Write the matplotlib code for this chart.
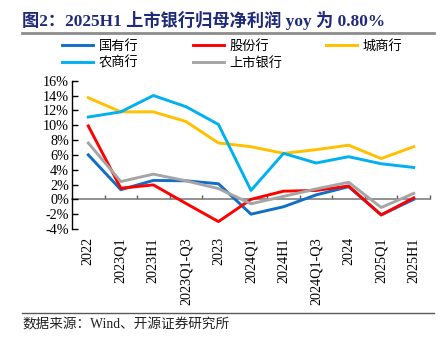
import matplotlib
matplotlib.use("Agg")
import matplotlib.pyplot as plt
from matplotlib.lines import Line2D

plt.rcParams["font.family"] = ["Liberation Serif", "Noto Sans CJK SC"]

periods = ["2022", "2023Q1", "2023H1", "2023Q1-Q3", "2023", "2024Q1",
           "2024H1", "2024Q1-Q3", "2024", "2025Q1", "2025H1"]
state_owned = [6.0, 1.3, 2.55, 2.5, 2.1, -2.0, -1.0, 0.6, 1.7, -2.1, 0.0]
joint_stock = [9.9, 1.5, 1.95, -0.55, -3.0, 0.0, 1.1, 1.2, 1.8, -2.1, 0.2]
city_banks  = [13.7, 11.8, 11.8, 10.5, 7.6, 7.1, 6.2, 6.7, 7.3, 5.5, 7.1]
rural_banks = [11.1, 11.8, 14.0, 12.5, 10.1, 1.2, 6.2, 4.9, 5.75, 4.8, 4.3]
listed_all  = [7.6, 2.4, 3.4, 2.5, 1.45, -0.6, 0.4, 1.4, 2.3, -1.1, 0.8]
yticks = list(range(-4, 17, 2))

series = [
    ("国有行", state_owned, "#0F6FC6"),
    ("股份行", joint_stock, "#FF0000"),
    ("城商行", city_banks, "#FFC000"),
    ("农商行", rural_banks, "#00B0F0"),
    ("上市银行", listed_all, "#A5A5A5"),
]

fig = plt.figure(figsize=(4.46, 3.47), dpi=100)
ax = fig.add_axes([72 / 446, 1 - 229 / 347, 358 / 446, 148.3 / 347])

x = list(range(len(periods)))
handles = {}
for name, vals, col in series:
    (ln,) = ax.plot(x, vals, color=col, lw=2.1, label=name)
    handles[name] = ln

ax.set_xlim(-0.5, len(periods) - 0.5)
ax.set_ylim(-4, 16)
ax.set_yticks(yticks)
ax.set_yticklabels([f"{v}%" for v in yticks], fontsize=10.2)
ax.tick_params(axis="y", direction="in", length=4, width=1, pad=2)
ax.set_xticks(x)
ax.set_xticklabels(periods, rotation=90, fontsize=10.2)
ax.tick_params(axis="x", length=0, pad=6)
for s in ["top", "right", "bottom"]:
    ax.spines[s].set_visible(False)
ax.spines["left"].set_linewidth(1)

# zero line with ticks at category boundaries
zero_axis = ax.secondary_xaxis(4 / 20)
zero_axis.set_xticks([i + 0.5 for i in x])
zero_axis.set_xticklabels([])
zero_axis.tick_params(direction="in", length=3, width=1, color="#595959")
zero_axis.spines["bottom"].set_color("#7F7F7F")
zero_axis.spines["bottom"].set_linewidth(1.2)

# legend: three columns placed like the reference
legend_cols = [(["国有行", "农商行"], 55), (["股份行", "上市银行"], 186), (["城商行"], 319)]
for names, x0 in legend_cols:
    leg = fig.legend([handles[n] for n in names], names, ncol=1, frameon=False,
                     loc="upper left", bbox_to_anchor=(x0 / 446, 1 - 33 / 347),
                     borderpad=0, handlelength=2.4, handletextpad=0.4,
                     labelspacing=0.3,
                     prop={"family": ["Noto Sans CJK SC"], "size": 9.5})

fig.text(22 / 446, 1 - 20 / 347, "图2：2025H1 上市银行归母净利润 yoy 为 0.80%",
         fontsize=12.4, fontweight="bold", color="#1F2A7A", va="center", ha="left")
fig.add_artist(Line2D([22 / 446, 434 / 446], [1 - 33 / 347, 1 - 33 / 347],
                      color="#8C8C8C", lw=2))
fig.add_artist(Line2D([22 / 446, 434 / 446], [1 - 313 / 347, 1 - 313 / 347],
                      color="#595959", lw=1))
fig.text(22 / 446, 1 - 325 / 347, "数据来源：Wind、开源证券研究所",
         fontsize=9.8, color="#222222", va="center", ha="left")

fig.savefig("out.png", dpi=100)
